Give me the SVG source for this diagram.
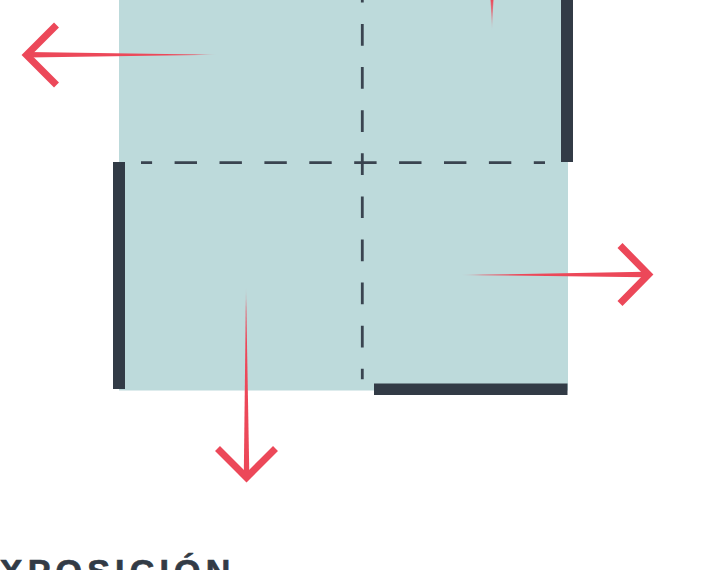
<svg xmlns="http://www.w3.org/2000/svg" width="714" height="570" viewBox="0 0 714 570">
  <style>
    .wall { fill: #323b46; }
    .dash { stroke: #3a4450; stroke-width: 2.8; fill: none; }
    .head { stroke: #ec4859; stroke-width: 7; fill: none; stroke-linejoin: miter; stroke-linecap: butt; }
    .label { font-family: "Liberation Sans", Arial, sans-serif; font-weight: bold; font-size: 34px; fill: #323b46; stroke: #323b46; stroke-width: 0.7px; letter-spacing: 5.2px; }
  </style>
  <defs>
    <linearGradient id="gl" x1="217" y1="0" x2="28" y2="0" gradientUnits="userSpaceOnUse">
      <stop offset="0" stop-color="#ec4859" stop-opacity="0.1"/>
      <stop offset="0.12" stop-color="#ec4859" stop-opacity="1"/>
      <stop offset="1" stop-color="#ec4859"/>
    </linearGradient>
    <linearGradient id="gr" x1="460" y1="0" x2="645" y2="0" gradientUnits="userSpaceOnUse">
      <stop offset="0" stop-color="#ec4859" stop-opacity="0.1"/>
      <stop offset="0.12" stop-color="#ec4859" stop-opacity="1"/>
      <stop offset="1" stop-color="#ec4859"/>
    </linearGradient>
    <linearGradient id="gd" x1="0" y1="287" x2="0" y2="474" gradientUnits="userSpaceOnUse">
      <stop offset="0" stop-color="#ec4859" stop-opacity="0.1"/>
      <stop offset="0.12" stop-color="#ec4859" stop-opacity="1"/>
      <stop offset="1" stop-color="#ec4859"/>
    </linearGradient>
    <linearGradient id="gu" x1="0" y1="31" x2="0" y2="0" gradientUnits="userSpaceOnUse">
      <stop offset="0" stop-color="#ec4859" stop-opacity="0"/>
      <stop offset="1" stop-color="#ec4859" stop-opacity="1"/>
    </linearGradient>
  </defs>

  <g id="plan">
    <rect x="119" y="-2" width="449" height="392.5" fill="#bddadb"/>
  </g>

  <g id="axes">
    <line class="dash" x1="141" y1="162.7" x2="545" y2="162.7" stroke-dasharray="22.4 22.5" stroke-dashoffset="11.3"/>
    <line class="dash" x1="362.3" y1="0" x2="362.3" y2="379.3" stroke-dasharray="21.7 21.4" stroke-dashoffset="19.1"/>
  </g>

  <g id="walls">
    <rect class="wall" x="561" y="-2" width="12" height="164"/>
    <rect class="wall" x="113" y="162" width="12" height="227"/>
    <rect class="wall" x="374" y="383.5" width="193.5" height="11.5"/>
  </g>

  <g id="connectors">
    <g id="arrow-left">
      <polygon points="217,54.8 28,52 28,57.5" fill="url(#gl)"/>
      <polyline class="head" points="56.5,25 26.5,55 56.5,85"/>
    </g>
    <g id="arrow-right">
      <polygon points="460,275 645,271.8 645,277.3" fill="url(#gr)"/>
      <polyline class="head" points="620,245.5 648.5,274.5 620,303.5"/>
    </g>
    <g id="arrow-down">
      <polygon points="246,287 243.8,474 249.3,474" fill="url(#gd)"/>
      <polyline class="head" points="217.5,448.5 246.5,477.5 275.5,448.5"/>
    </g>
    <g id="arrow-up">
      <polygon points="492,31 490.5,-2 493.5,-2" fill="url(#gu)"/>
    </g>
  </g>

  <g id="title">
    <text class="label" x="-28.1" y="582.8">EXPOSICIÓN</text>
  </g>
</svg>
